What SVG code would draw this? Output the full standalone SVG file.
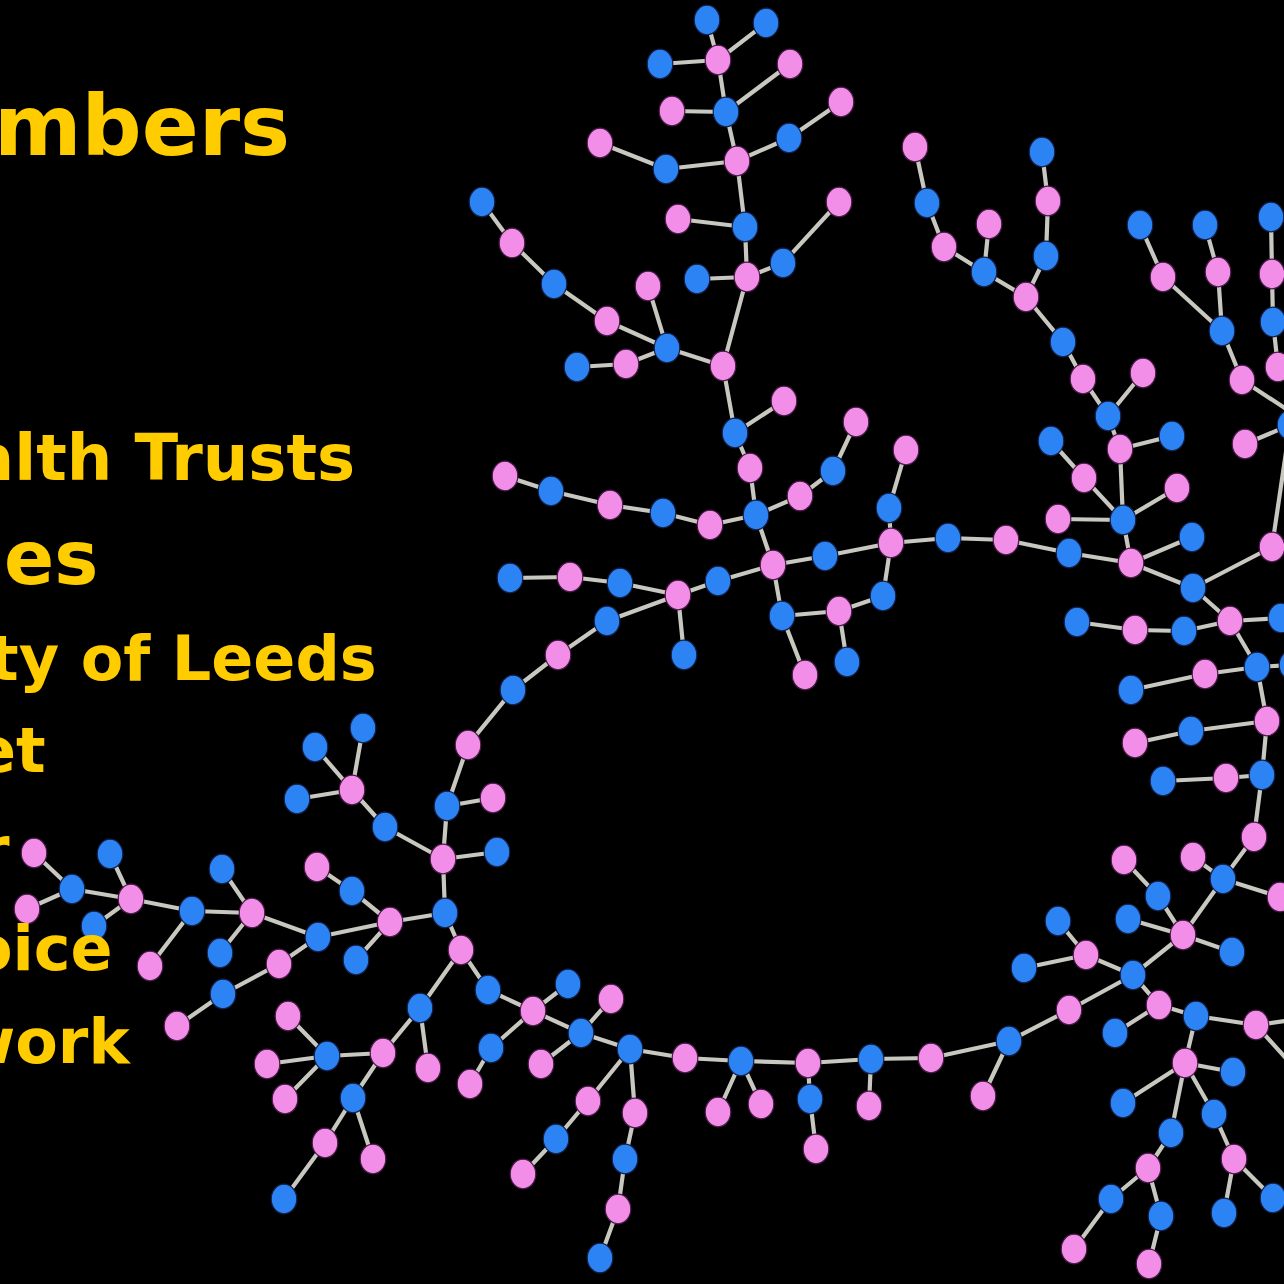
<svg xmlns="http://www.w3.org/2000/svg" xmlns:xlink="http://www.w3.org/1999/xlink" width="1284" height="1284" viewBox="0 0 1284 1284">
<style>
.e{stroke:#c8c8c0;stroke-width:4.2;stroke-linecap:round}
.b{fill:#2c84f4;stroke:#14204a;stroke-width:1.2}
.p{fill:#f28ee8;stroke:#4a1a48;stroke-width:1.2}
.t{font-family:"DejaVu Sans","Liberation Sans",sans-serif;font-weight:bold;fill:#ffcc00}
</style>
<defs>
<ellipse id="B" class="b" rx="12.8" ry="14.8"/>
<ellipse id="P" class="p" rx="12.8" ry="14.8"/>
</defs>
<rect width="1284" height="1284" fill="#000"/>
<g id="connectors" class="e">
<line x1="707" y1="20" x2="718" y2="60"/><line x1="766" y1="23" x2="718" y2="60"/><line x1="660" y1="64" x2="718" y2="60"/><line x1="718" y1="60" x2="726" y2="112"/><line x1="726" y1="112" x2="790" y2="64"/><line x1="672" y1="111" x2="726" y2="112"/><line x1="726" y1="112" x2="737" y2="161"/><line x1="737" y1="161" x2="789" y2="138"/><line x1="789" y1="138" x2="841" y2="102"/><line x1="600" y1="143" x2="666" y2="169"/><line x1="666" y1="169" x2="737" y2="161"/><line x1="737" y1="161" x2="745" y2="227"/><line x1="678" y1="219" x2="745" y2="227"/><line x1="745" y1="227" x2="747" y2="277"/><line x1="747" y1="277" x2="783" y2="263"/><line x1="783" y1="263" x2="839" y2="202"/><line x1="697" y1="279" x2="747" y2="277"/><line x1="747" y1="277" x2="723" y2="366"/>
<line x1="482" y1="202" x2="512" y2="243"/><line x1="512" y1="243" x2="554" y2="284"/><line x1="554" y1="284" x2="607" y2="321"/><line x1="607" y1="321" x2="667" y2="348"/><line x1="648" y1="286" x2="667" y2="348"/><line x1="626" y1="364" x2="667" y2="348"/><line x1="577" y1="367" x2="626" y2="364"/><line x1="667" y1="348" x2="723" y2="366"/><line x1="723" y1="366" x2="735" y2="433"/><line x1="735" y1="433" x2="784" y2="401"/><line x1="735" y1="433" x2="750" y2="468"/><line x1="750" y1="468" x2="756" y2="515"/><line x1="756" y1="515" x2="800" y2="496"/><line x1="800" y1="496" x2="833" y2="471"/><line x1="833" y1="471" x2="856" y2="422"/>
<line x1="505" y1="476" x2="551" y2="491"/><line x1="551" y1="491" x2="610" y2="505"/><line x1="610" y1="505" x2="663" y2="513"/><line x1="663" y1="513" x2="710" y2="525"/><line x1="710" y1="525" x2="756" y2="515"/><line x1="756" y1="515" x2="773" y2="565"/><line x1="773" y1="565" x2="825" y2="556"/><line x1="825" y1="556" x2="891" y2="543"/><line x1="773" y1="565" x2="718" y2="581"/><line x1="718" y1="581" x2="678" y2="595"/><line x1="510" y1="578" x2="570" y2="577"/><line x1="570" y1="577" x2="620" y2="583"/><line x1="620" y1="583" x2="678" y2="595"/><line x1="678" y1="595" x2="607" y2="621"/><line x1="607" y1="621" x2="558" y2="655"/><line x1="558" y1="655" x2="513" y2="690"/><line x1="513" y1="690" x2="468" y2="745"/><line x1="678" y1="595" x2="684" y2="655"/><line x1="773" y1="565" x2="782" y2="616"/><line x1="782" y1="616" x2="839" y2="611"/><line x1="839" y1="611" x2="847" y2="662"/><line x1="782" y1="616" x2="805" y2="675"/><line x1="839" y1="611" x2="883" y2="596"/><line x1="883" y1="596" x2="891" y2="543"/>
<line x1="906" y1="450" x2="889" y2="508"/><line x1="889" y1="508" x2="891" y2="543"/><line x1="891" y1="543" x2="948" y2="538"/><line x1="948" y1="538" x2="1006" y2="540"/><line x1="1006" y1="540" x2="1069" y2="553"/><line x1="1069" y1="553" x2="1131" y2="563"/>
<line x1="915" y1="147" x2="927" y2="203"/><line x1="927" y1="203" x2="944" y2="247"/><line x1="944" y1="247" x2="984" y2="272"/><line x1="989" y1="224" x2="984" y2="272"/><line x1="984" y1="272" x2="1026" y2="297"/><line x1="1042" y1="152" x2="1048" y2="201"/><line x1="1048" y1="201" x2="1046" y2="256"/><line x1="1046" y1="256" x2="1026" y2="297"/><line x1="1026" y1="297" x2="1063" y2="342"/><line x1="1063" y1="342" x2="1083" y2="379"/><line x1="1083" y1="379" x2="1108" y2="416"/><line x1="1143" y1="373" x2="1108" y2="416"/><line x1="1108" y1="416" x2="1120" y2="449"/><line x1="1120" y1="449" x2="1172" y2="436"/><line x1="1120" y1="449" x2="1123" y2="520"/><line x1="1051" y1="441" x2="1084" y2="478"/><line x1="1084" y1="478" x2="1123" y2="520"/><line x1="1123" y1="520" x2="1177" y2="488"/><line x1="1058" y1="519" x2="1123" y2="520"/><line x1="1123" y1="520" x2="1131" y2="563"/><line x1="1131" y1="563" x2="1192" y2="537"/><line x1="1131" y1="563" x2="1193" y2="588"/><line x1="1193" y1="588" x2="1272" y2="547"/><line x1="1272" y1="547" x2="1290" y2="425"/><line x1="1245" y1="444" x2="1290" y2="425"/>
<line x1="1140" y1="225" x2="1163" y2="277"/><line x1="1163" y1="277" x2="1222" y2="331"/><line x1="1205" y1="225" x2="1218" y2="272"/><line x1="1218" y1="272" x2="1222" y2="331"/><line x1="1222" y1="331" x2="1242" y2="380"/><line x1="1242" y1="380" x2="1300" y2="418"/><line x1="1271" y1="217" x2="1272" y2="274"/><line x1="1272" y1="274" x2="1273" y2="322"/><line x1="1273" y1="322" x2="1278" y2="367"/>
<line x1="1193" y1="588" x2="1230" y2="621"/><line x1="1077" y1="622" x2="1135" y2="630"/><line x1="1135" y1="630" x2="1184" y2="631"/><line x1="1184" y1="631" x2="1230" y2="621"/><line x1="1230" y1="621" x2="1281" y2="618"/><line x1="1230" y1="621" x2="1257" y2="667"/><line x1="1205" y1="674" x2="1257" y2="667"/><line x1="1131" y1="690" x2="1205" y2="674"/><line x1="1257" y1="667" x2="1292" y2="665"/><line x1="1257" y1="667" x2="1267" y2="721"/><line x1="1191" y1="731" x2="1267" y2="721"/><line x1="1135" y1="743" x2="1191" y2="731"/><line x1="1267" y1="721" x2="1262" y2="775"/><line x1="1226" y1="778" x2="1262" y2="775"/><line x1="1163" y1="781" x2="1226" y2="778"/><line x1="1262" y1="775" x2="1254" y2="837"/><line x1="1254" y1="837" x2="1223" y2="879"/><line x1="1193" y1="857" x2="1223" y2="879"/><line x1="1223" y1="879" x2="1280" y2="897"/><line x1="1223" y1="879" x2="1183" y2="935"/><line x1="1124" y1="860" x2="1158" y2="896"/><line x1="1158" y1="896" x2="1183" y2="935"/><line x1="1128" y1="919" x2="1183" y2="935"/><line x1="1183" y1="935" x2="1232" y2="952"/><line x1="1183" y1="935" x2="1133" y2="975"/>
<line x1="1058" y1="921" x2="1086" y2="955"/><line x1="1024" y1="968" x2="1086" y2="955"/><line x1="1086" y1="955" x2="1133" y2="975"/><line x1="1133" y1="975" x2="1069" y2="1010"/><line x1="1069" y1="1010" x2="1009" y2="1041"/><line x1="1009" y1="1041" x2="931" y2="1058"/><line x1="931" y1="1058" x2="871" y2="1059"/><line x1="871" y1="1059" x2="869" y2="1106"/><line x1="871" y1="1059" x2="808" y2="1063"/><line x1="1009" y1="1041" x2="983" y2="1096"/><line x1="1133" y1="975" x2="1159" y2="1005"/><line x1="1159" y1="1005" x2="1115" y2="1033"/><line x1="1159" y1="1005" x2="1196" y2="1016"/><line x1="1196" y1="1016" x2="1256" y2="1025"/><line x1="1256" y1="1025" x2="1300" y2="1019"/><line x1="1256" y1="1025" x2="1300" y2="1074"/><line x1="1196" y1="1016" x2="1185" y2="1063"/><line x1="1185" y1="1063" x2="1233" y2="1072"/><line x1="1185" y1="1063" x2="1123" y2="1103"/><line x1="1185" y1="1063" x2="1214" y2="1114"/><line x1="1185" y1="1063" x2="1171" y2="1133"/><line x1="1214" y1="1114" x2="1234" y2="1159"/><line x1="1234" y1="1159" x2="1273" y2="1198"/><line x1="1234" y1="1159" x2="1224" y2="1213"/><line x1="1171" y1="1133" x2="1148" y2="1168"/><line x1="1148" y1="1168" x2="1111" y2="1199"/><line x1="1111" y1="1199" x2="1074" y2="1249"/><line x1="1148" y1="1168" x2="1161" y2="1216"/><line x1="1161" y1="1216" x2="1149" y2="1264"/>
<line x1="808" y1="1063" x2="810" y2="1099"/><line x1="810" y1="1099" x2="816" y2="1149"/><line x1="741" y1="1061" x2="808" y2="1063"/><line x1="741" y1="1061" x2="718" y2="1112"/><line x1="741" y1="1061" x2="761" y2="1104"/><line x1="685" y1="1058" x2="741" y2="1061"/><line x1="630" y1="1049" x2="685" y2="1058"/><line x1="630" y1="1049" x2="588" y2="1101"/><line x1="588" y1="1101" x2="556" y2="1139"/><line x1="556" y1="1139" x2="523" y2="1174"/><line x1="630" y1="1049" x2="635" y2="1113"/><line x1="635" y1="1113" x2="625" y2="1159"/><line x1="625" y1="1159" x2="618" y2="1209"/><line x1="618" y1="1209" x2="600" y2="1258"/><line x1="581" y1="1033" x2="630" y2="1049"/><line x1="581" y1="1033" x2="611" y2="999"/><line x1="581" y1="1033" x2="541" y2="1064"/><line x1="533" y1="1011" x2="581" y2="1033"/><line x1="533" y1="1011" x2="568" y2="984"/><line x1="533" y1="1011" x2="491" y2="1048"/><line x1="491" y1="1048" x2="470" y2="1084"/><line x1="488" y1="990" x2="533" y2="1011"/><line x1="461" y1="950" x2="488" y2="990"/><line x1="445" y1="913" x2="461" y2="950"/><line x1="443" y1="859" x2="445" y2="913"/><line x1="443" y1="859" x2="497" y2="852"/><line x1="447" y1="806" x2="443" y2="859"/><line x1="447" y1="806" x2="493" y2="798"/><line x1="468" y1="745" x2="447" y2="806"/><line x1="461" y1="950" x2="420" y2="1008"/><line x1="420" y1="1008" x2="428" y2="1068"/><line x1="420" y1="1008" x2="383" y2="1053"/><line x1="327" y1="1056" x2="383" y2="1053"/><line x1="288" y1="1016" x2="327" y2="1056"/><line x1="267" y1="1064" x2="327" y2="1056"/><line x1="285" y1="1099" x2="327" y2="1056"/><line x1="383" y1="1053" x2="353" y2="1098"/><line x1="353" y1="1098" x2="325" y2="1143"/><line x1="325" y1="1143" x2="284" y2="1199"/><line x1="353" y1="1098" x2="373" y2="1159"/>
<line x1="445" y1="913" x2="390" y2="922"/><line x1="390" y1="922" x2="356" y2="960"/><line x1="317" y1="867" x2="352" y2="891"/><line x1="352" y1="891" x2="390" y2="922"/><line x1="390" y1="922" x2="318" y2="937"/><line x1="318" y1="937" x2="279" y2="964"/><line x1="279" y1="964" x2="223" y2="994"/><line x1="223" y1="994" x2="177" y2="1026"/><line x1="318" y1="937" x2="252" y2="913"/><line x1="222" y1="869" x2="252" y2="913"/><line x1="252" y1="913" x2="220" y2="953"/><line x1="252" y1="913" x2="192" y2="911"/><line x1="192" y1="911" x2="150" y2="966"/><line x1="192" y1="911" x2="131" y2="899"/><line x1="110" y1="854" x2="131" y2="899"/><line x1="94" y1="926" x2="131" y2="899"/><line x1="131" y1="899" x2="72" y2="889"/><line x1="34" y1="853" x2="72" y2="889"/><line x1="27" y1="909" x2="72" y2="889"/><line x1="352" y1="790" x2="385" y2="827"/><line x1="385" y1="827" x2="443" y2="859"/><line x1="315" y1="747" x2="352" y2="790"/><line x1="363" y1="728" x2="352" y2="790"/><line x1="297" y1="799" x2="352" y2="790"/>
</g>
<g id="nodes">
<g id="n1"><use href="#B" x="707" y="20"/></g><g id="n2"><use href="#B" x="766" y="23"/></g><g id="n3"><use href="#P" x="718" y="60"/></g><g id="n4"><use href="#B" x="660" y="64"/></g><g id="n5"><use href="#P" x="790" y="64"/></g><g id="n6"><use href="#B" x="726" y="112"/></g><g id="n7"><use href="#P" x="672" y="111"/></g><g id="n8"><use href="#P" x="841" y="102"/></g><g id="n9"><use href="#B" x="789" y="138"/></g><g id="n10"><use href="#P" x="737" y="161"/></g>
<g id="n11"><use href="#P" x="600" y="143"/></g><g id="n12"><use href="#B" x="666" y="169"/></g><g id="n13"><use href="#B" x="745" y="227"/></g><g id="n14"><use href="#P" x="678" y="219"/></g><g id="n15"><use href="#P" x="839" y="202"/></g><g id="n16"><use href="#B" x="783" y="263"/></g><g id="n17"><use href="#P" x="747" y="277"/></g><g id="n18"><use href="#B" x="697" y="279"/></g><g id="n19"><use href="#B" x="482" y="202"/></g><g id="n20"><use href="#P" x="512" y="243"/></g>
<g id="n21"><use href="#B" x="554" y="284"/></g><g id="n22"><use href="#P" x="607" y="321"/></g><g id="n23"><use href="#P" x="648" y="286"/></g><g id="n24"><use href="#B" x="667" y="348"/></g><g id="n25"><use href="#P" x="626" y="364"/></g><g id="n26"><use href="#B" x="577" y="367"/></g><g id="n27"><use href="#P" x="723" y="366"/></g><g id="n28"><use href="#P" x="784" y="401"/></g><g id="n29"><use href="#B" x="735" y="433"/></g><g id="n30"><use href="#P" x="750" y="468"/></g>
<g id="n31"><use href="#P" x="856" y="422"/></g><g id="n32"><use href="#B" x="833" y="471"/></g><g id="n33"><use href="#P" x="800" y="496"/></g><g id="n34"><use href="#B" x="756" y="515"/></g><g id="n35"><use href="#P" x="710" y="525"/></g><g id="n36"><use href="#B" x="663" y="513"/></g><g id="n37"><use href="#P" x="610" y="505"/></g><g id="n38"><use href="#B" x="551" y="491"/></g><g id="n39"><use href="#P" x="505" y="476"/></g><g id="n40"><use href="#P" x="906" y="450"/></g>
<g id="n41"><use href="#B" x="889" y="508"/></g><g id="n42"><use href="#P" x="891" y="543"/></g><g id="n43"><use href="#B" x="948" y="538"/></g><g id="n44"><use href="#P" x="1006" y="540"/></g><g id="n45"><use href="#B" x="1069" y="553"/></g><g id="n46"><use href="#P" x="1131" y="563"/></g><g id="n47"><use href="#B" x="825" y="556"/></g><g id="n48"><use href="#P" x="773" y="565"/></g><g id="n49"><use href="#B" x="718" y="581"/></g><g id="n50"><use href="#P" x="678" y="595"/></g>
<g id="n51"><use href="#B" x="620" y="583"/></g><g id="n52"><use href="#P" x="570" y="577"/></g><g id="n53"><use href="#B" x="510" y="578"/></g><g id="n54"><use href="#B" x="607" y="621"/></g><g id="n55"><use href="#P" x="558" y="655"/></g><g id="n56"><use href="#B" x="513" y="690"/></g><g id="n57"><use href="#P" x="468" y="745"/></g><g id="n58"><use href="#B" x="684" y="655"/></g><g id="n59"><use href="#B" x="782" y="616"/></g><g id="n60"><use href="#P" x="839" y="611"/></g>
<g id="n61"><use href="#B" x="883" y="596"/></g><g id="n62"><use href="#P" x="805" y="675"/></g><g id="n63"><use href="#B" x="847" y="662"/></g><g id="n64"><use href="#P" x="915" y="147"/></g><g id="n65"><use href="#B" x="927" y="203"/></g><g id="n66"><use href="#P" x="944" y="247"/></g><g id="n67"><use href="#P" x="989" y="224"/></g><g id="n68"><use href="#B" x="984" y="272"/></g><g id="n69"><use href="#B" x="1042" y="152"/></g><g id="n70"><use href="#P" x="1048" y="201"/></g>
<g id="n71"><use href="#B" x="1046" y="256"/></g><g id="n72"><use href="#P" x="1026" y="297"/></g><g id="n73"><use href="#B" x="1063" y="342"/></g><g id="n74"><use href="#P" x="1083" y="379"/></g><g id="n75"><use href="#P" x="1143" y="373"/></g><g id="n76"><use href="#B" x="1108" y="416"/></g><g id="n77"><use href="#B" x="1140" y="225"/></g><g id="n78"><use href="#P" x="1163" y="277"/></g><g id="n79"><use href="#B" x="1205" y="225"/></g><g id="n80"><use href="#P" x="1218" y="272"/></g>
<g id="n81"><use href="#B" x="1222" y="331"/></g><g id="n82"><use href="#P" x="1242" y="380"/></g><g id="n83"><use href="#B" x="1271" y="217"/></g><g id="n84"><use href="#P" x="1272" y="274"/></g><g id="n85"><use href="#B" x="1273" y="322"/></g><g id="n86"><use href="#P" x="1278" y="367"/></g><g id="n87"><use href="#B" x="1051" y="441"/></g><g id="n88"><use href="#P" x="1120" y="449"/></g><g id="n89"><use href="#B" x="1172" y="436"/></g><g id="n90"><use href="#P" x="1084" y="478"/></g>
<g id="n91"><use href="#P" x="1177" y="488"/></g><g id="n92"><use href="#B" x="1123" y="520"/></g><g id="n93"><use href="#P" x="1058" y="519"/></g><g id="n94"><use href="#B" x="1192" y="537"/></g><g id="n95"><use href="#B" x="1193" y="588"/></g><g id="n96"><use href="#P" x="1272" y="547"/></g><g id="n97"><use href="#P" x="1245" y="444"/></g><g id="n98"><use href="#B" x="1290" y="425"/></g><g id="n99"><use href="#B" x="1077" y="622"/></g><g id="n100"><use href="#P" x="1135" y="630"/></g>
<g id="n101"><use href="#B" x="1184" y="631"/></g><g id="n102"><use href="#P" x="1230" y="621"/></g><g id="n103"><use href="#B" x="1281" y="618"/></g><g id="n104"><use href="#B" x="1257" y="667"/></g><g id="n105"><use href="#P" x="1205" y="674"/></g><g id="n106"><use href="#B" x="1131" y="690"/></g><g id="n107"><use href="#B" x="1292" y="665"/></g><g id="n108"><use href="#P" x="1267" y="721"/></g><g id="n109"><use href="#B" x="1191" y="731"/></g><g id="n110"><use href="#P" x="1135" y="743"/></g>
<g id="n111"><use href="#B" x="1262" y="775"/></g><g id="n112"><use href="#P" x="1226" y="778"/></g><g id="n113"><use href="#B" x="1163" y="781"/></g><g id="n114"><use href="#P" x="1254" y="837"/></g><g id="n115"><use href="#B" x="1223" y="879"/></g><g id="n116"><use href="#P" x="1193" y="857"/></g><g id="n117"><use href="#P" x="1124" y="860"/></g><g id="n118"><use href="#B" x="1158" y="896"/></g><g id="n119"><use href="#P" x="1280" y="897"/></g><g id="n120"><use href="#P" x="1183" y="935"/></g>
<g id="n121"><use href="#B" x="1128" y="919"/></g><g id="n122"><use href="#B" x="1232" y="952"/></g><g id="n123"><use href="#B" x="1058" y="921"/></g><g id="n124"><use href="#P" x="1086" y="955"/></g><g id="n125"><use href="#B" x="1024" y="968"/></g><g id="n126"><use href="#B" x="1133" y="975"/></g><g id="n127"><use href="#P" x="1069" y="1010"/></g><g id="n128"><use href="#B" x="1009" y="1041"/></g><g id="n129"><use href="#P" x="931" y="1058"/></g><g id="n130"><use href="#B" x="871" y="1059"/></g>
<g id="n131"><use href="#P" x="869" y="1106"/></g><g id="n132"><use href="#P" x="983" y="1096"/></g><g id="n133"><use href="#P" x="1159" y="1005"/></g><g id="n134"><use href="#B" x="1115" y="1033"/></g><g id="n135"><use href="#B" x="1196" y="1016"/></g><g id="n136"><use href="#P" x="1256" y="1025"/></g><g id="n137"><use href="#P" x="1185" y="1063"/></g><g id="n138"><use href="#B" x="1233" y="1072"/></g><g id="n139"><use href="#B" x="1123" y="1103"/></g><g id="n140"><use href="#B" x="1214" y="1114"/></g>
<g id="n141"><use href="#B" x="1171" y="1133"/></g><g id="n142"><use href="#P" x="1234" y="1159"/></g><g id="n143"><use href="#P" x="1148" y="1168"/></g><g id="n144"><use href="#B" x="1273" y="1198"/></g><g id="n145"><use href="#B" x="1224" y="1213"/></g><g id="n146"><use href="#B" x="1111" y="1199"/></g><g id="n147"><use href="#B" x="1161" y="1216"/></g><g id="n148"><use href="#P" x="1074" y="1249"/></g><g id="n149"><use href="#P" x="1149" y="1264"/></g><g id="n150"><use href="#P" x="808" y="1063"/></g>
<g id="n151"><use href="#B" x="810" y="1099"/></g><g id="n152"><use href="#P" x="816" y="1149"/></g><g id="n153"><use href="#B" x="741" y="1061"/></g><g id="n154"><use href="#P" x="718" y="1112"/></g><g id="n155"><use href="#P" x="761" y="1104"/></g><g id="n156"><use href="#P" x="685" y="1058"/></g><g id="n157"><use href="#B" x="630" y="1049"/></g><g id="n158"><use href="#P" x="588" y="1101"/></g><g id="n159"><use href="#B" x="556" y="1139"/></g><g id="n160"><use href="#P" x="523" y="1174"/></g>
<g id="n161"><use href="#P" x="635" y="1113"/></g><g id="n162"><use href="#B" x="625" y="1159"/></g><g id="n163"><use href="#P" x="618" y="1209"/></g><g id="n164"><use href="#B" x="600" y="1258"/></g><g id="n165"><use href="#B" x="581" y="1033"/></g><g id="n166"><use href="#P" x="611" y="999"/></g><g id="n167"><use href="#P" x="541" y="1064"/></g><g id="n168"><use href="#P" x="533" y="1011"/></g><g id="n169"><use href="#B" x="568" y="984"/></g><g id="n170"><use href="#B" x="491" y="1048"/></g>
<g id="n171"><use href="#P" x="470" y="1084"/></g><g id="n172"><use href="#B" x="488" y="990"/></g><g id="n173"><use href="#P" x="461" y="950"/></g><g id="n174"><use href="#B" x="445" y="913"/></g><g id="n175"><use href="#P" x="443" y="859"/></g><g id="n176"><use href="#B" x="497" y="852"/></g><g id="n177"><use href="#B" x="447" y="806"/></g><g id="n178"><use href="#P" x="493" y="798"/></g><g id="n179"><use href="#B" x="420" y="1008"/></g><g id="n180"><use href="#P" x="428" y="1068"/></g>
<g id="n181"><use href="#P" x="383" y="1053"/></g><g id="n182"><use href="#B" x="327" y="1056"/></g><g id="n183"><use href="#P" x="288" y="1016"/></g><g id="n184"><use href="#P" x="267" y="1064"/></g><g id="n185"><use href="#P" x="285" y="1099"/></g><g id="n186"><use href="#B" x="353" y="1098"/></g><g id="n187"><use href="#P" x="325" y="1143"/></g><g id="n188"><use href="#B" x="284" y="1199"/></g><g id="n189"><use href="#P" x="373" y="1159"/></g><g id="n190"><use href="#P" x="390" y="922"/></g>
<g id="n191"><use href="#B" x="356" y="960"/></g><g id="n192"><use href="#B" x="352" y="891"/></g><g id="n193"><use href="#P" x="317" y="867"/></g><g id="n194"><use href="#B" x="318" y="937"/></g><g id="n195"><use href="#P" x="279" y="964"/></g><g id="n196"><use href="#B" x="223" y="994"/></g><g id="n197"><use href="#P" x="177" y="1026"/></g><g id="n198"><use href="#P" x="252" y="913"/></g><g id="n199"><use href="#B" x="222" y="869"/></g><g id="n200"><use href="#B" x="220" y="953"/></g>
<g id="n201"><use href="#B" x="192" y="911"/></g><g id="n202"><use href="#P" x="150" y="966"/></g><g id="n203"><use href="#P" x="131" y="899"/></g><g id="n204"><use href="#B" x="110" y="854"/></g><g id="n205"><use href="#B" x="72" y="889"/></g><g id="n206"><use href="#P" x="34" y="853"/></g><g id="n207"><use href="#P" x="27" y="909"/></g><g id="n208"><use href="#B" x="94" y="926"/></g><g id="n209"><use href="#P" x="352" y="790"/></g><g id="n210"><use href="#B" x="315" y="747"/></g>
<g id="n211"><use href="#B" x="363" y="728"/></g><g id="n212"><use href="#B" x="297" y="799"/></g><g id="n213"><use href="#B" x="385" y="827"/></g>
</g>
<g id="labels" class="t">
<text x="-6" y="155" font-size="84">mbers</text>
<text x="-29" y="480" font-size="64">alth Trusts</text>
<text x="4" y="584" font-size="74">es</text>
<text x="-11" y="680" font-size="62">ty of Leeds</text>
<text x="-26" y="772" font-size="62">et</text>
<text x="-21" y="871" font-size="62">r</text>
<text x="-30" y="970" font-size="62">oice</text>
<text x="-42" y="1063" font-size="62">work</text>
</g>
</svg>
